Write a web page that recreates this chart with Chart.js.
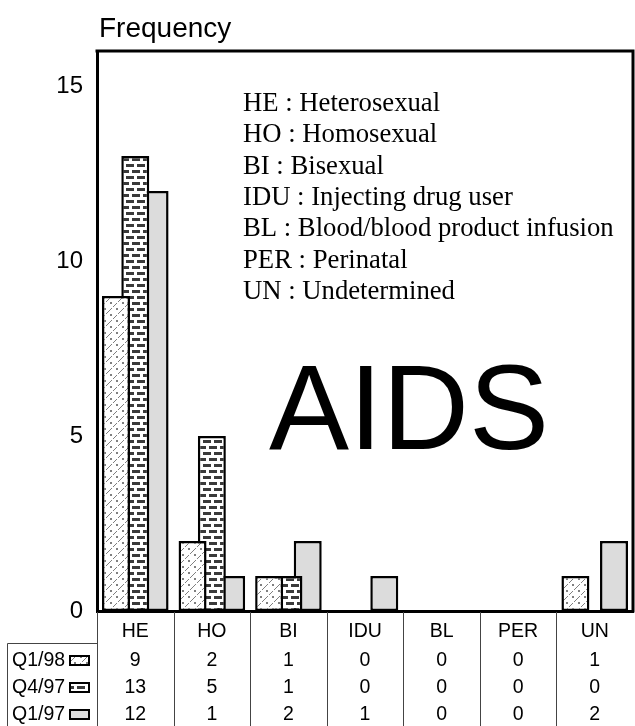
<!DOCTYPE html>
<html>
<head>
<meta charset="utf-8">
<script src="https://cdn.jsdelivr.net/npm/chart.js@4.4.1/dist/chart.umd.min.js"></script>
<style>
  html,body{margin:0;padding:0;background:#fff;}
  canvas{display:block;}
</style>
</head>
<body>
<canvas id="c" width="635" height="726"></canvas>
<script>
// ---- data ----
const categories = ['HE', 'HO', 'BI', 'IDU', 'BL', 'PER', 'UN'];
const seriesNames = ['Q1/98', 'Q4/97', 'Q1/97'];
const q198 = [9, 2, 1, 0, 0, 0, 1];
const q497 = [13, 5, 1, 0, 0, 0, 0];
const q197 = [12, 1, 2, 1, 0, 0, 2];
const yTickValues = [0, 5, 10, 15];
const axisTitle = 'Frequency';
const bigLabel = 'AIDS';
const legendLines = [
  'HE : Heterosexual',
  'HO : Homosexual',
  'BI : Bisexual',
  'IDU : Injecting drug user',
  'BL : Blood/blood product infusion',
  'PER : Perinatal',
  'UN : Undetermined'
];

// ---- patterns ----
const mainCtx = document.getElementById('c').getContext('2d');
function makeDotDiag() {
  const c = document.createElement('canvas'); c.width = 12; c.height = 12;
  const g = c.getContext('2d');
  g.fillStyle = '#fff'; g.fillRect(0, 0, 12, 12);
  g.fillStyle = '#808080';
  for (let i = 0; i < 12; i++) { if (i % 5 !== 4) g.fillRect(i, 11 - i, 1, 1); }
  g.fillRect(2, 2, 2, 2);
  g.fillRect(8, 8, 2, 2);
  return mainCtx.createPattern(c, 'repeat');
}
function makeBrick() {
  const c = document.createElement('canvas'); c.width = 11; c.height = 12;
  const g = c.getContext('2d');
  g.fillStyle = '#fff'; g.fillRect(0, 0, 11, 12);
  g.fillStyle = '#3a3a3a';
  g.fillRect(0, 2, 8, 3);
  g.fillRect(5, 8, 6, 3);
  g.fillRect(0, 8, 2, 3);
  return mainCtx.createPattern(c, 'repeat');
}
const fills = [makeDotDiag(), makeBrick(), '#dcdcdc'];
const seriesValues = [q198, q497, q197];

const SANS = '"Liberation Sans", Arial, sans-serif';
const SERIF = '"Liberation Serif", "Times New Roman", serif';

const decor = {
  id: 'decor',
  afterDraw(chart) {
    const ctx = chart.ctx;
    const a = chart.chartArea;
    const xs = chart.scales.x;
    ctx.save();
    // frame top and right
    ctx.strokeStyle = '#000';
    ctx.lineWidth = 3;
    ctx.beginPath();
    ctx.moveTo(a.left - 1.5, a.top);
    ctx.lineTo(a.right, a.top);
    ctx.lineTo(a.right, a.bottom + 1.5);
    ctx.stroke();

    // axis title
    ctx.fillStyle = '#000';
    ctx.font = '28px ' + SANS;
    ctx.textAlign = 'left';
    ctx.textBaseline = 'alphabetic';
    ctx.fillText(axisTitle, a.left + 2, 37);

    // legend text
    ctx.font = '26.7px ' + SERIF;
    legendLines.forEach((t, i) => ctx.fillText(t, 243, 111 + i * 31.3));

    // big label
    ctx.font = '120px ' + SANS;
    ctx.textAlign = 'center';
    ctx.fillText(bigLabel, 409, 449);

    // table lines
    ctx.strokeStyle = '#444';
    ctx.lineWidth = 1;
    const n = categories.length;
    const bounds = [a.left];
    for (let i = 0; i < n - 1; i++) {
      bounds.push((xs.getPixelForValue(i) + xs.getPixelForValue(i + 1)) / 2);
    }
    ctx.beginPath();
    bounds.forEach(b => {
      const x = Math.round(b) + 0.5;
      ctx.moveTo(x, a.bottom + 1);
      ctx.lineTo(x, 726);
    });
    const headY = 643.5;
    ctx.moveTo(7.5, headY);
    ctx.lineTo(a.left, headY);
    ctx.moveTo(7.5, headY);
    ctx.lineTo(7.5, 726);
    ctx.stroke();

    // rows
    const rowBase = [666, 693, 720];
    seriesNames.forEach((name, r) => {
      ctx.font = '19.5px ' + SANS;
      ctx.textAlign = 'left';
      ctx.fillStyle = '#000';
      ctx.fillText(name, 12, rowBase[r]);
      // swatch
      const sx = 70, sy = rowBase[r] - 10, sw = 19, sh = 9;
      ctx.fillStyle = fills[r];
      ctx.fillRect(sx, sy, sw, sh);
      ctx.strokeStyle = '#000';
      ctx.lineWidth = 2;
      ctx.strokeRect(sx, sy, sw, sh);
      // values
      ctx.fillStyle = '#000';
      ctx.textAlign = 'center';
      seriesValues[r].forEach((v, i) => {
        ctx.fillText(String(v), xs.getPixelForValue(i), rowBase[r]);
      });
    });
    ctx.restore();
  }
};

new Chart(document.getElementById('c'), {
  type: 'bar',
  data: {
    labels: categories,
    datasets: seriesNames.map((name, i) => ({
      label: name,
      data: seriesValues[i],
      backgroundColor: fills[i],
      borderColor: '#000',
      borderWidth: 2.5,
      borderSkipped: false,
      categoryPercentage: 0.756,
      barPercentage: 1.45
    }))
  },
  options: {
    responsive: false,
    animation: false,
    events: [],
    layout: { padding: { left: 0, right: 2, top: 51, bottom: 81 } },
    plugins: { legend: { display: false }, tooltip: { enabled: false }, title: { display: false } },
    scales: {
      x: {
        grid: { display: false, drawTicks: false },
        border: { display: true, color: '#000', width: 3 },
        ticks: { color: '#000', font: { family: SANS, size: 19.5 }, padding: 9, maxRotation: 0 },
        afterFit(s) { s.height = 34; }
      },
      y: {
        min: 0,
        max: 16,
        grid: { display: false, drawTicks: false },
        border: { display: true, color: '#000', width: 3 },
        afterBuildTicks(s) { s.ticks = yTickValues.map(v => ({ value: v })); },
        ticks: { color: '#000', font: { family: SANS, size: 24 }, padding: 14 },
        afterFit(s) { s.width = 97; }
      }
    }
  },
  plugins: [decor]
});
</script>
</body>
</html>
